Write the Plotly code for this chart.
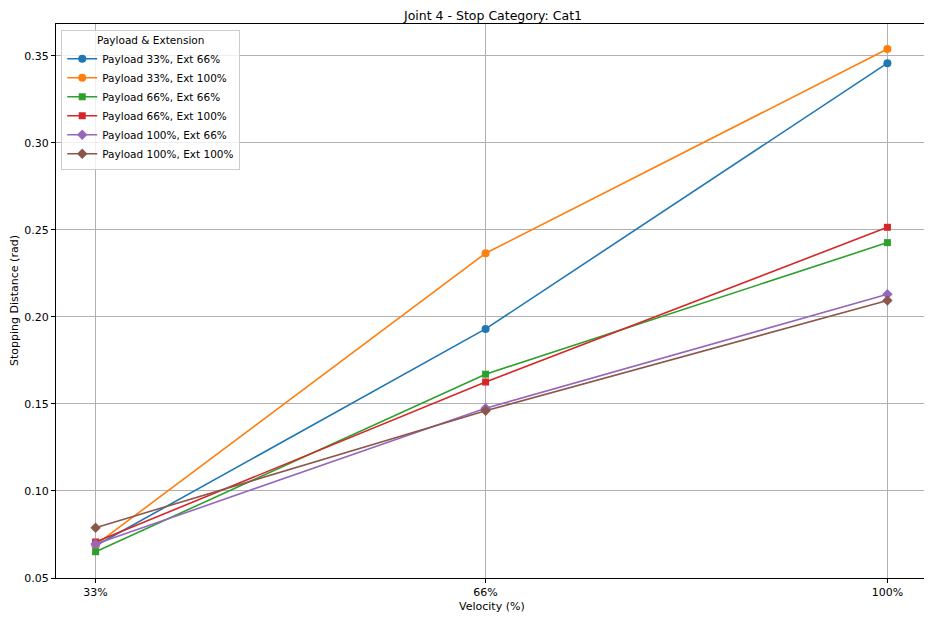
import plotly.graph_objects as go

velocity = [33, 66, 100]
velocity_labels = ["33%", "66%", "100%"]

series_names = [
    "Payload 33%, Ext 66%",
    "Payload 33%, Ext 100%",
    "Payload 66%, Ext 66%",
    "Payload 66%, Ext 100%",
    "Payload 100%, Ext 66%",
    "Payload 100%, Ext 100%",
]
p33_e66 = [0.0685, 0.1931, 0.3458]
p33_e100 = [0.0690, 0.2366, 0.3539]
p66_e66 = [0.0651, 0.1671, 0.2427]
p66_e100 = [0.0707, 0.1626, 0.2515]
p100_e66 = [0.0695, 0.1475, 0.2130]
p100_e100 = [0.0789, 0.1461, 0.2094]

series_values = [p33_e66, p33_e100, p66_e66, p66_e100, p100_e66, p100_e100]
colors = ["#1f77b4", "#ff7f0e", "#2ca02c", "#d62728", "#9467bd", "#8c564b"]
symbols = ["circle", "circle", "square", "square", "diamond", "diamond"]
sizes = [8, 8, 7, 7, 8, 8]

fig = go.Figure()
for name, vals, c, s, sz in zip(series_names, series_values, colors, symbols, sizes):
    fig.add_trace(go.Scatter(
        x=velocity, y=vals, name=name, mode="lines+markers",
        line=dict(color=c, width=1.6),
        marker=dict(color=c, symbol=s, size=sz),
    ))

# The page body has an 8px default margin, so the figure is sized to fit the window.
W, H = 924, 610
L, R, T, B = 48, 5, 16, 40
pw, ph = W - L - R, H - T - B

font = "DejaVu Sans, Arial, sans-serif"
fig.update_layout(
    width=W, height=H,
    margin=dict(l=L, r=R, t=T, b=B, autoexpand=False),
    paper_bgcolor="white", plot_bgcolor="white",
    font=dict(family=font, size=11, color="#000000"),
    title=dict(text="Joint 4 - Stop Category: Cat1", x=(L + pw / 2 + 1.5) / W, xanchor="center",
               y=1 - 7.5 / H, yanchor="middle", font=dict(size=12.5, color="#000000")),
    showlegend=True,
    legend=dict(
        x=0.006, y=0.99, xanchor="left", yanchor="top",
        bgcolor="rgba(255,255,255,0.8)", bordercolor="#cccccc", borderwidth=1,
        font=dict(size=10.5, color="#000000"),
        title=dict(text="Payload & Extension", side="top center", font=dict(size=10.5, color="#000000")),
        tracegroupgap=0, itemwidth=30,
    ),
    xaxis=dict(
        range=[29.65, 103.35], tickmode="array", tickvals=velocity, ticktext=velocity_labels,
        showgrid=True, gridcolor="#b0b0b0", gridwidth=0.8,
        showline=True, linecolor="#000000", linewidth=1, mirror=True,
        ticks="outside", ticklen=4, tickcolor="#000000", zeroline=False,
        automargin=False,
        tickfont=dict(size=11, color="#000000"),
    ),
    yaxis=dict(
        range=[0.0500, 0.3683], tickmode="array",
        tickvals=[0.05, 0.10, 0.15, 0.20, 0.25, 0.30, 0.35],
        ticktext=["0.05", "0.10", "0.15", "0.20", "0.25", "0.30", "0.35"],
        showgrid=True, gridcolor="#b0b0b0", gridwidth=0.8,
        showline=True, linecolor="#000000", linewidth=1, mirror=True,
        ticks="outside", ticklen=4, tickcolor="#000000", zeroline=False,
        automargin=False,
        tickfont=dict(size=11, color="#000000"),
    ),
    annotations=[
        dict(text="Velocity (%)", xref="paper", yref="paper", x=0.5, y=-28 / ph,
             xanchor="center", yanchor="middle", showarrow=False,
             font=dict(size=11, color="#000000")),
        dict(text="Stopping Distance (rad)", xref="paper", yref="paper", x=-42 / pw, y=0.5,
             xanchor="center", yanchor="middle", textangle=-90, showarrow=False,
             font=dict(size=11, color="#000000")),
    ],
)

fig.write_html("out.html")
